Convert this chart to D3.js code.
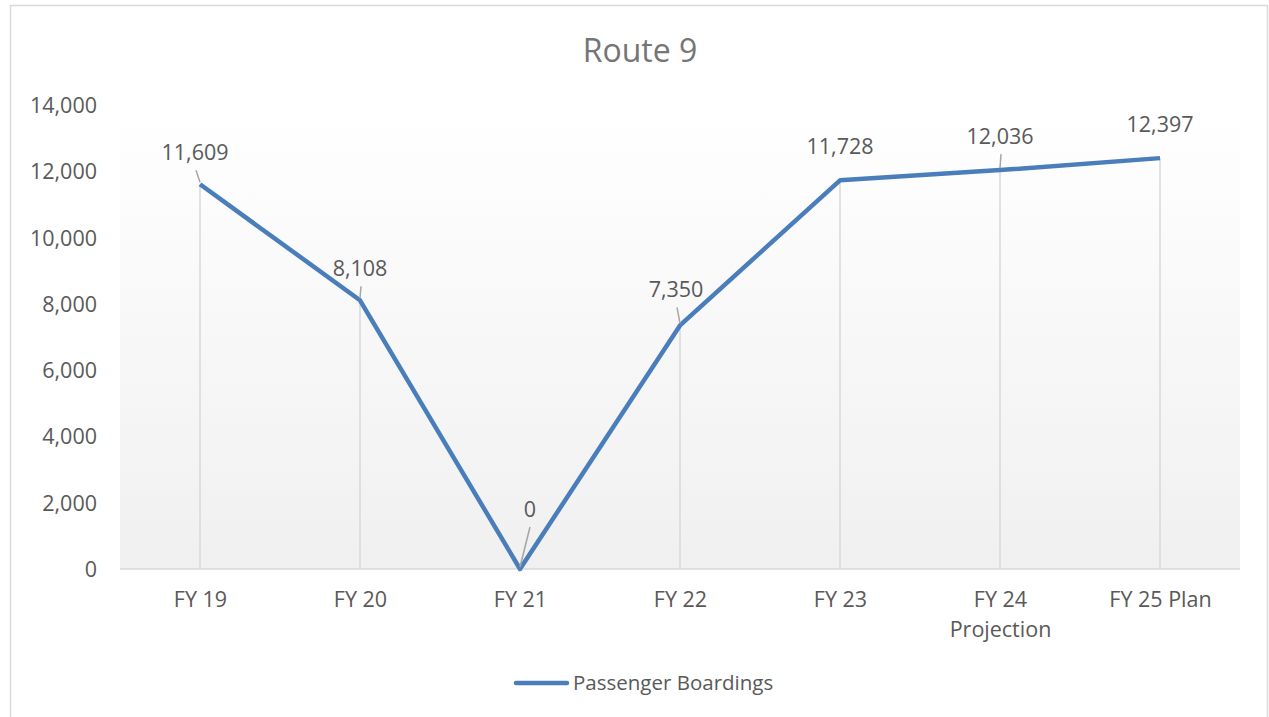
<!DOCTYPE html>
<html>
<head>
<meta charset="utf-8">
<script src="https://cdn.jsdelivr.net/npm/d3@7"></script>
<style>
  html, body { margin: 0; padding: 0; background: #ffffff; }
  svg { display: block; }
  text { font-family: "Open Sans", "Noto Sans", sans-serif; fill: #595959; }
</style>
</head>
<body>
<svg id="chart" width="1269" height="717"></svg>
<script>
// Route 9 passenger boardings by fiscal year
const categories = ["FY 19", "FY 20", "FY 21", "FY 22", "FY 23", "FY 24 Projection", "FY 25 Plan"];
const boardings = [11609, 8108, 0, 7350, 11728, 12036, 12397];
const yTicks = [0, 2000, 4000, 6000, 8000, 10000, 12000, 14000];
const seriesName = "Passenger Boardings";
const chartTitle = "Route 9";

// label nudges (dx, dy from the point) and leader-line flags
const labelLayout = [
  { dx: -5, dy: -24, leader: true },
  { dx: 0, dy: -24, leader: true },
  { dx: 10, dy: -52, leader: true },
  { dx: -4, dy: -28, leader: true },
  { dx: 0, dy: -26, leader: false },
  { dx: 0, dy: -26, leader: true },
  { dx: 0, dy: -26, leader: false }
];

const svg = d3.select("#chart");
const plot = { left: 120, right: 1240, top: 105, bottom: 569 };
const lineColor = "#4a7ebb";
const fontPx = "21.5px";

// chart frame
svg.append("rect")
  .attr("x", 10.5).attr("y", 5.5)
  .attr("width", 1257).attr("height", 730)
  .attr("fill", "#ffffff")
  .attr("stroke", "#d9d9d9").attr("stroke-width", 1.5);

const x = d3.scalePoint().domain(categories).range([plot.left, plot.right]).padding(0.5);
const y = d3.scaleLinear().domain([0, 14000]).range([plot.bottom, plot.top]);

// plot-area gradient fill
const defs = svg.append("defs");
const grad = defs.append("linearGradient").attr("id", "plotFill")
  .attr("x1", 0).attr("y1", 0).attr("x2", 0).attr("y2", 1);
grad.append("stop").attr("offset", "0%").attr("stop-color", "#ffffff");
grad.append("stop").attr("offset", "100%").attr("stop-color", "#f0f0f0");

svg.append("rect")
  .attr("x", plot.left).attr("y", plot.top)
  .attr("width", plot.right - plot.left).attr("height", plot.bottom - plot.top)
  .attr("fill", "url(#plotFill)");

// title
svg.append("text")
  .attr("x", 640).attr("y", 62)
  .attr("text-anchor", "middle")
  .style("font-size", "32px")
  .style("fill", "#757575")
  .text(chartTitle);

// y axis labels (no line, no ticks)
const yAxis = d3.axisLeft(y).tickValues(yTicks).tickFormat(d3.format(",")).tickSize(0).tickPadding(0);
const yG = svg.append("g").attr("transform", `translate(${97},0)`).call(yAxis);
yG.select(".domain").remove();
yG.selectAll("text").style("font-size", fontPx).style("fill", "#595959").attr("dy", "0.35em")
  .style("font-family", "'Open Sans', 'Noto Sans', sans-serif");

// drop lines from each point to the baseline
svg.append("g").selectAll("line").data(boardings).join("line")
  .attr("x1", (d, i) => x(categories[i])).attr("x2", (d, i) => x(categories[i]))
  .attr("y1", d => y(d)).attr("y2", y(0))
  .attr("stroke", "#d9d9d9").attr("stroke-width", 1.5);

// x axis baseline and category labels
const xAxis = d3.axisBottom(x).tickSize(0).tickPadding(0);
const xG = svg.append("g").attr("transform", `translate(0,${plot.bottom})`).call(xAxis);
xG.select(".domain").attr("stroke", "#d9d9d9").attr("stroke-width", 1.5)
  .attr("d", `M${plot.left},0H${plot.right}`);
xG.selectAll("text").remove();
xG.selectAll(".tick").each(function (d) {
  const t = d3.select(this).append("text")
    .attr("text-anchor", "middle")
    .style("font-size", fontPx)
    .style("fill", "#595959");
  const parts = d.startsWith("FY 24") ? ["FY 24", "Projection"] : [d];
  parts.forEach((p, k) => t.append("tspan").attr("x", 0).attr("y", 38 + k * 30).text(p));
});

// series line
const line = d3.line().x((d, i) => x(categories[i])).y(d => y(d));
svg.append("path").datum(boardings)
  .attr("d", line)
  .attr("fill", "none")
  .attr("stroke", lineColor)
  .attr("stroke-width", 4.5)
  .attr("stroke-linejoin", "round");

// data labels with leader lines
const fmt = d3.format(",");
const lbl = svg.append("g");
boardings.forEach((v, i) => {
  const px = x(categories[i]), py = y(v);
  const L = labelLayout[i];
  const tx = px + L.dx, ty = py + L.dy;
  if (L.leader) {
    lbl.append("line")
      .attr("x1", tx + (L.dx > 0 ? 0 : 1)).attr("y1", ty + 10)
      .attr("x2", px).attr("y2", py - 2)
      .attr("stroke", "#a6a6a6").attr("stroke-width", 1.5);
  }
  lbl.append("text")
    .attr("x", tx).attr("y", ty)
    .attr("text-anchor", "middle")
    .style("font-size", fontPx)
    .style("fill", "#595959")
    .text(fmt(v));
});

// legend
const lg = svg.append("g").attr("transform", "translate(516,683)");
lg.append("line").attr("x1", 0).attr("x2", 51).attr("y1", 0).attr("y2", 0)
  .attr("stroke", lineColor).attr("stroke-width", 4.5).attr("stroke-linecap", "round");
lg.append("text").attr("x", 57).attr("y", 0).attr("dy", "0.35em")
  .style("font-size", "20.5px").style("fill", "#595959")
  .text(seriesName);
</script>
</body>
</html>
